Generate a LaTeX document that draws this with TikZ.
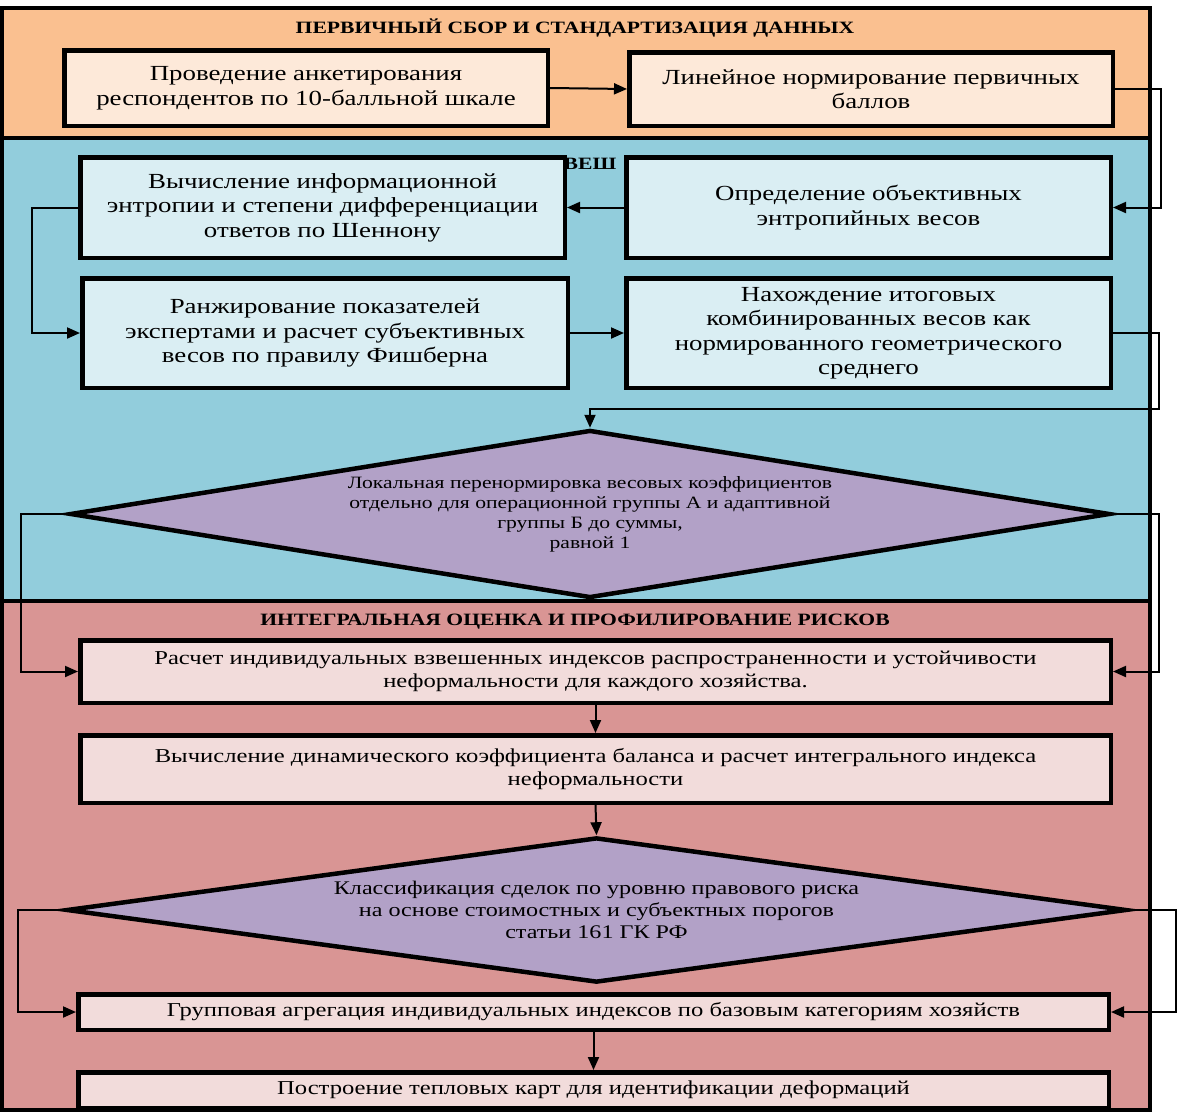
\documentclass[tikz,border=0pt]{standalone}
\usepackage{fontspec}
\setmainfont{Liberation Serif}[FakeStretch=1.25]
\usetikzlibrary{shapes.geometric,arrows.meta}
\definecolor{secA}{HTML}{FAC090}
\definecolor{secB}{HTML}{92CDDC}
\definecolor{secC}{HTML}{D99594}
\definecolor{boxA}{HTML}{FDE9D9}
\definecolor{boxB}{HTML}{DAEEF3}
\definecolor{boxC}{HTML}{F2DCDB}
\definecolor{diaF}{HTML}{B2A1C7}
\begin{document}
\begin{tikzpicture}[x=1pt,y=-1pt,
  sect/.style={draw=black,line width=4pt},
  box/.style={draw=black,line width=4.5pt,align=center,inner sep=0pt},
  bigtxt/.style={font=\fontsize{21.5}{24.5}\selectfont},
  midtxt/.style={font=\fontsize{19.7}{22.5}\selectfont},
  dia/.style={diamond,draw=black,line width=4.5pt,fill=diaF,aspect=6,inner sep=0pt,align=center},
  conn/.style={draw=black,line width=2pt,-{Triangle[length=13pt,width=11pt]}},
  sectitle/.style={font=\bfseries\fontsize{17.3}{20}\selectfont,inner sep=0pt}]
\useasboundingbox (0,0) rectangle (1184,1114);
% sections
\draw[sect,fill=secA] (2,8) rectangle (1150,138);
\draw[sect,fill=secB] (2,138) rectangle (1150,601);
\draw[sect,fill=secC] (2,601) rectangle (1150,1110);
\node[sectitle] (t1) at (575,28) {ПЕРВИЧНЫЙ СБОР И СТАНДАРТИЗАЦИЯ ДАННЫХ};
\node[sectitle] (t2) at (590,164) {ВЕШ};
\node[sectitle] (t3) at (575,622) {ИНТЕГРАЛЬНАЯ ОЦЕНКА И ПРОФИЛИРОВАНИЕ РИСКОВ};
% section 1
\node[box,bigtxt,fill=boxA,minimum width=483.5,minimum height=75.5] (a) at (306,88) {Проведение анкетирования\\респондентов по 10-балльной шкале};
\node[box,bigtxt,fill=boxA,minimum width=483.5,minimum height=73.5] (b) at (871,89) {Линейное нормирование первичных\\баллов};
% section 2
\node[box,bigtxt,fill=boxB,minimum width=484.5,minimum height=100.5] (c) at (322.5,207.5) {Вычисление информационной\\энтропии и степени дифференциации\\ответов по Шеннону};
\node[box,bigtxt,fill=boxB,minimum width=484.5,minimum height=100.5] (d) at (868.5,207.5) {Определение объективных\\энтропийных весов};
\node[box,bigtxt,fill=boxB,minimum width=485.5,minimum height=109.5] (e) at (325,333) {Ранжирование показателей\\экспертами и расчет субъективных\\весов по правилу Фишберна};
\node[box,bigtxt,fill=boxB,minimum width=484.5,minimum height=109.5] (f) at (868.5,333) {Нахождение итоговых\\комбинированных весов как\\нормированного геометрического\\среднего};
\node[dia,font=\fontsize{17.3}{20}\selectfont,minimum width=1040,minimum height=168] (p) at (590,514) {Локальная перенормировка весовых коэффициентов\\отдельно для операционной группы А и адаптивной\\группы Б до суммы,\\равной 1};
% section 3
\node[box,midtxt,fill=boxC,minimum width=1030.5,minimum height=62.5] (g) at (595.5,671.5) {Расчет индивидуальных взвешенных индексов распространенности и устойчивости\\неформальности для каждого хозяйства.};
\node[box,midtxt,fill=boxC,minimum width=1030.5,minimum height=67.5] (h) at (595.5,769) {Вычисление динамического коэффициента баланса и расчет интегрального индекса\\неформальности};
\node[dia,font=\fontsize{19.3}{22}\selectfont,minimum width=1060,minimum height=142] (q) at (596.5,910) {Классификация сделок по уровню правового риска\\на основе стоимостных и субъектных порогов\\статьи 161 ГК РФ};
\node[box,midtxt,fill=boxC,minimum width=1030.5,minimum height=35.5] (i) at (593.5,1012) {Групповая агрегация индивидуальных индексов по базовым категориям хозяйств};
\node[box,midtxt,fill=boxC,minimum width=1030.5,minimum height=35.5] (j) at (593.5,1090) {Построение тепловых карт для идентификации деформаций};
% connectors
\draw[conn] (a.east) -- (b.west);
\draw[conn] (b.east) -- ++(46,0) |- (d.east);
\draw[conn] (d.west) -- (c.east);
\draw[conn] (c.west) -- ++(-46,0) |- (e.west);
\draw[conn] (e.east) -- (f.west);
\draw[conn] (f.east) -- ++(46,0) -- ++(0,76) -| (p.north);
\draw[conn] (p.west) -- ++(-47,0) |- (g.west);
\draw[conn] (p.east) -- ++(47,0) |- (g.east);
\draw[conn] (g.south) -- (h.north);
\draw[conn] (h.south) -- (q.north);
\draw[conn] (q.west) -- ++(-46,0) |- (i.west);
\draw[conn] (q.east) -- ++(47,0) |- (i.east);
\draw[conn] (i.south) -- (j.north);
\end{tikzpicture}
\end{document}
